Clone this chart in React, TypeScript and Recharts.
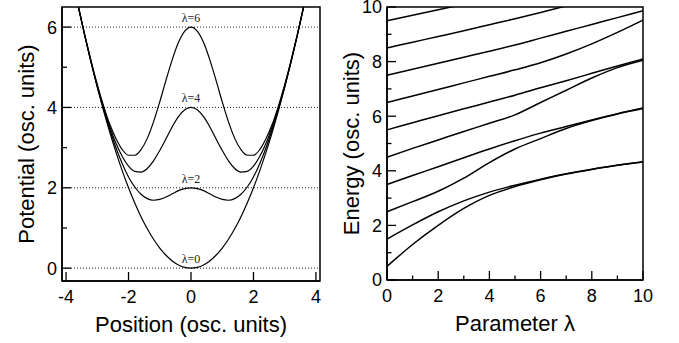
import React from 'react';
import {
  LineChart,
  Line,
  XAxis,
  YAxis,
  ReferenceLine,
  ReferenceArea,
  ReferenceDot,
} from 'recharts';

const SANS = '"Liberation Sans", Arial, sans-serif';
const SERIF = '"Liberation Serif", "Times New Roman", serif';

// left panel: double-well potential for several barrier heights
const positions = [
  -3.8, -3.6, -3.4, -3.2, -3.0, -2.8, -2.6, -2.4, -2.2, -2.0, -1.8, -1.6, -1.4,
  -1.2, -1.0, -0.8, -0.6, -0.4, -0.2, 0, 0.2, 0.4, 0.6, 0.8, 1.0, 1.2, 1.4, 1.6,
  1.8, 2.0, 2.2, 2.4, 2.6, 2.8, 3.0, 3.2, 3.4, 3.6, 3.8,
];
const potLam0 = [
  7.22, 6.48, 5.78, 5.12, 4.5, 3.92, 3.38, 2.88, 2.42, 2.0, 1.62, 1.28, 0.98,
  0.72, 0.5, 0.32, 0.18, 0.08, 0.02, 0, 0.02, 0.08, 0.18, 0.32, 0.5, 0.72, 0.98,
  1.28, 1.62, 2.0, 2.42, 2.88, 3.38, 3.92, 4.5, 5.12, 5.78, 6.48, 7.22,
];
const potLam2 = [
  7.22, 6.48, 5.79, 5.13, 4.52, 3.96, 3.45, 2.99, 2.6, 2.27, 2.02, 1.84, 1.73,
  1.69, 1.71, 1.77, 1.85, 1.93, 1.98, 2.0, 1.98, 1.93, 1.85, 1.77, 1.71, 1.69,
  1.73, 1.84, 2.02, 2.27, 2.6, 2.99, 3.45, 3.96, 4.52, 5.13, 5.79, 6.48, 7.22,
];
const potLam4 = [
  7.22, 6.49, 5.79, 5.14, 4.54, 4.0, 3.52, 3.1, 2.78, 2.54, 2.41, 2.39, 2.48,
  2.67, 2.93, 3.22, 3.52, 3.77, 3.94, 4.0, 3.94, 3.77, 3.52, 3.22, 2.93, 2.67,
  2.48, 2.39, 2.41, 2.54, 2.78, 3.1, 3.52, 4.0, 4.54, 5.14, 5.79, 6.49, 7.22,
];
const potLam6 = [
  7.22, 6.49, 5.8, 5.16, 4.57, 4.04, 3.58, 3.22, 2.95, 2.81, 2.81, 2.95, 3.23,
  3.64, 4.14, 4.68, 5.19, 5.62, 5.9, 6.0, 5.9, 5.62, 5.19, 4.68, 4.14, 3.64,
  3.23, 2.95, 2.81, 2.81, 2.95, 3.22, 3.58, 4.04, 4.57, 5.16, 5.8, 6.49, 7.22,
];
const barrierHeights = [0, 2, 4, 6];
const posTicks = [-4, -2, 0, 2, 4];
const potTicks = [0, 1, 2, 3, 4, 5, 6];

// right panel: energy levels vs. lambda
const lambdas = [0, 1, 2, 3, 4, 5, 6, 7, 8, 9, 10];
const level0 = [0.5, 1.3, 2.0, 2.62, 3.1, 3.42, 3.67, 3.88, 4.05, 4.2, 4.32];
const level1 = [1.5, 2.02, 2.5, 2.9, 3.22, 3.47, 3.69, 3.89, 4.06, 4.2, 4.33];
const level2 = [2.5, 2.87, 3.25, 3.73, 4.3, 4.8, 5.18, 5.55, 5.84, 6.08, 6.28];
const level3 = [3.5, 3.83, 4.15, 4.48, 4.8, 5.1, 5.38, 5.62, 5.86, 6.09, 6.3];
const level4 = [4.5, 4.82, 5.13, 5.44, 5.74, 6.05, 6.5, 6.95, 7.4, 7.78, 8.05];
const level5 = [5.5, 5.76, 6.02, 6.27, 6.52, 6.77, 7.04, 7.3, 7.57, 7.84, 8.1];
const level6 = [6.5, 6.74, 6.98, 7.22, 7.46, 7.7, 7.96, 8.28, 8.65, 9.07, 9.52];
const level7 = [7.5, 7.72, 7.94, 8.16, 8.38, 8.61, 8.86, 9.11, 9.36, 9.61, 9.86];
const level8 = [8.5, 8.71, 8.92, 9.13, 9.35, 9.57, 9.8, 10.04, null, null, null];
const level9 = [9.5, 9.7, 9.9, 10.1, null, null, null, null, null, null, null];
const levels = [level0, level1, level2, level3, level4, level5, level6, level7, level8, level9];
const lamTicks = [0, 1, 2, 3, 4, 5, 6, 7, 8, 9, 10];
const energyTicks = [0, 1, 2, 3, 4, 5, 6, 7, 8, 9, 10];

const potentialData = positions.map((x, i) => ({
  x,
  l0: potLam0[i],
  l2: potLam2[i],
  l4: potLam4[i],
  l6: potLam6[i],
}));

const energyData = lambdas.map((lam, i) => {
  const row: Record<string, number | null> = { lam };
  levels.forEach((lv, k) => {
    row['e' + k] = lv[i];
  });
  return row;
});

function BottomTick(props: any) {
  const { x, y, payload, major = 9, minor = 5 } = props;
  const v = payload.value;
  const isMajor = v % 2 === 0;
  return (
    <g>
      <line x1={x} x2={x} y1={y} y2={y - (isMajor ? major : minor)} stroke="#000" strokeWidth={1.3} />
      {isMajor && (
        <text x={x} y={y + 22} textAnchor="middle" fontSize={18} fontFamily={SANS} fill="#000">
          {v}
        </text>
      )}
    </g>
  );
}

function LeftTick(props: any) {
  const { x, y, payload, major = 9, minor = 5 } = props;
  const v = payload.value;
  const isMajor = v % 2 === 0;
  return (
    <g>
      <line x1={x} x2={x + (isMajor ? major : minor)} y1={y} y2={y} stroke="#000" strokeWidth={1.3} />
      {isMajor && (
        <text x={x - 5} y={y} dy="0.36em" textAnchor="end" fontSize={18} fontFamily={SANS} fill="#000">
          {v}
        </text>
      )}
    </g>
  );
}

function PotentialChart() {
  const series = [
    { key: 'l0', lam: 0 },
    { key: 'l2', lam: 2 },
    { key: 'l4', lam: 4 },
    { key: 'l6', lam: 6 },
  ];
  return (
    <LineChart
      width={340}
      height={343}
      data={potentialData}
      margin={{ top: 7, right: 20, left: 0, bottom: 11 }}
    >
      <XAxis
        dataKey="x"
        type="number"
        domain={[-4.13, 4.13]}
        ticks={posTicks}
        interval={0}
        tickSize={0}
        tickMargin={0}
        height={51}
        axisLine={{ stroke: '#000', strokeWidth: 1.5 }}
        tick={<BottomTick />}
        label={{
          value: 'Position (osc. units)',
          position: 'insideBottom',
          offset: 0,
          fontSize: 22,
          fontFamily: SANS,
          fill: '#000',
        }}
      />
      <YAxis
        type="number"
        domain={[-0.32, 6.5]}
        allowDataOverflow
        ticks={potTicks}
        interval={0}
        tickSize={0}
        tickMargin={0}
        width={62}
        axisLine={{ stroke: '#000', strokeWidth: 1.5 }}
        tick={<LeftTick />}
        label={{
          value: 'Potential (osc. units)',
          angle: -90,
          position: 'insideLeft',
          offset: 26,
          style: { textAnchor: 'middle' },
          fontSize: 22,
          fontFamily: SANS,
          fill: '#000',
        }}
      />
      {barrierHeights.map((h) => (
        <ReferenceLine key={'g' + h} y={h} stroke="#222" strokeWidth={1} strokeDasharray="1 2" />
      ))}
      <ReferenceArea
        x1={-4.13}
        x2={4.13}
        y1={-0.32}
        y2={6.5}
        fill="none"
        stroke="#000"
        strokeWidth={1.5}
        ifOverflow="visible"
      />
      {series.map((s) => (
        <Line
          key={s.key}
          dataKey={s.key}
          type="monotone"
          stroke="#000"
          strokeWidth={1.2}
          dot={false}
          activeDot={false}
          isAnimationActive={false}
        />
      ))}
      {barrierHeights.map((h) => (
        <ReferenceDot
          key={'d' + h}
          x={0}
          y={h}
          r={1}
          fill="none"
          stroke="none"
          label={{
            value: 'λ=' + h,
            position: 'top',
            offset: 4,
            fontSize: 12,
            fontFamily: SERIF,
            fill: '#222',
          }}
        />
      ))}
    </LineChart>
  );
}

function EnergyChart() {
  return (
    <LineChart
      width={339}
      height={343}
      data={energyData}
      margin={{ top: 7, right: 36, left: 0, bottom: 12 }}
    >
      <XAxis
        dataKey="lam"
        type="number"
        domain={[0, 10]}
        ticks={lamTicks}
        interval={0}
        tickSize={0}
        tickMargin={0}
        height={51}
        axisLine={{ stroke: '#000', strokeWidth: 1.5 }}
        tick={<BottomTick minor={4.5} />}
        label={{
          value: 'Parameter λ',
          position: 'insideBottom',
          offset: 0,
          fontSize: 22,
          fontFamily: SANS,
          fill: '#000',
        }}
      />
      <YAxis
        type="number"
        domain={[0, 10]}
        allowDataOverflow
        ticks={energyTicks}
        interval={0}
        tickSize={0}
        tickMargin={0}
        width={47}
        axisLine={{ stroke: '#000', strokeWidth: 1.5 }}
        tick={<LeftTick minor={4.5} />}
        label={{
          value: 'Energy (osc. units)',
          angle: -90,
          position: 'insideLeft',
          offset: 11,
          style: { textAnchor: 'middle' },
          fontSize: 22,
          fontFamily: SANS,
          fill: '#000',
        }}
      />
      <ReferenceArea
        x1={0}
        x2={10}
        y1={0}
        y2={10}
        fill="none"
        stroke="#000"
        strokeWidth={1.5}
        ifOverflow="visible"
      />
      {levels.map((_, k) => (
        <Line
          key={'e' + k}
          dataKey={'e' + k}
          type="monotone"
          stroke="#000"
          strokeWidth={1.5}
          dot={false}
          activeDot={false}
          connectNulls={false}
          isAnimationActive={false}
        />
      ))}
    </LineChart>
  );
}

export default function App() {
  return (
    <div
      style={{
        position: 'absolute',
        left: 0,
        top: 0,
        width: 679,
        height: 343,
        background: '#fff',
        overflow: 'hidden',
      }}
    >
      <div style={{ position: 'absolute', left: 0, top: 0 }}>
        <PotentialChart />
      </div>
      <div style={{ position: 'absolute', left: 340, top: 0 }}>
        <EnergyChart />
      </div>
    </div>
  );
}
